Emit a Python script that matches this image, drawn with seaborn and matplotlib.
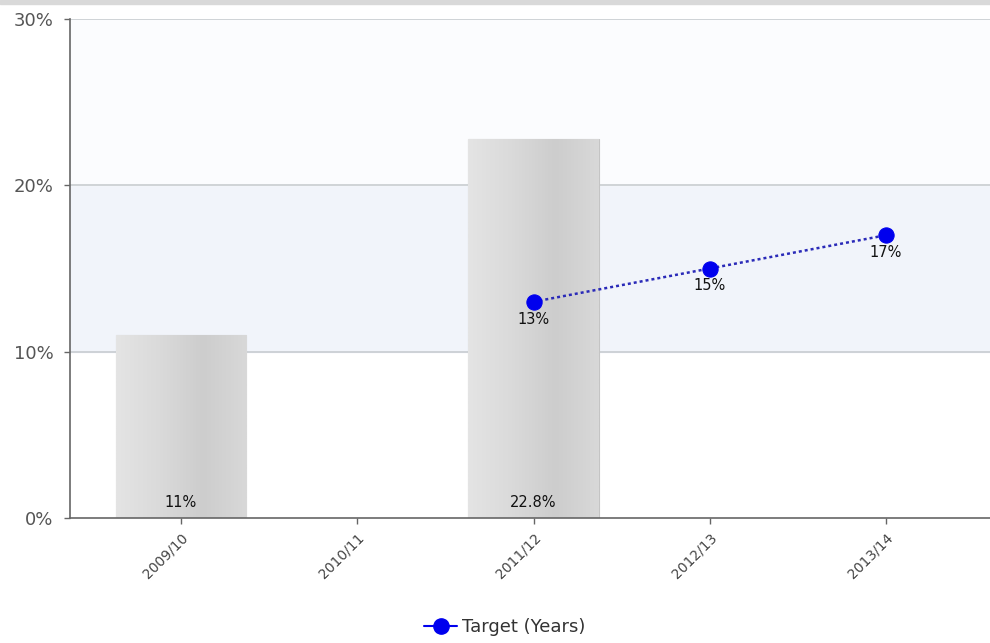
import numpy as np
import pandas as pd
import seaborn as sns
import matplotlib.pyplot as plt
from matplotlib.lines import Line2D

categories = ['2009/10', '2010/11', '2011/12', '2012/13', '2013/14']
actual = [11.0, np.nan, 22.8, np.nan, np.nan]
target = [np.nan, np.nan, 13.0, 15.0, 17.0]
y_ticks = [0, 10, 20, 30]
y_tick_labels = ['0%', '10%', '20%', '30%']

sns.set_style('white')
plt.rcParams['font.family'] = ['DejaVu Sans']

fig = plt.figure(figsize=(9.9, 6.43), dpi=100)
ax = fig.add_axes([70 / 990, 1 - 518 / 643, (997 - 70) / 990, (518 - 19) / 643])

# background bands
ax.axhspan(10, 20, color='#f1f4fa', zorder=0)
ax.axhspan(20, 30, color='#fbfcfe', zorder=0)
for v in [10, 20, 30]:
    ax.axhline(v, color='#c8ccd0', lw=1.2, zorder=1)

df = pd.DataFrame({'period': categories, 'actual': actual, 'target': target})
sns.barplot(data=df, x='period', y='actual', order=categories, color='#d6d6d6',
            width=0.74, edgecolor='#c4c4c4', linewidth=0.8, saturation=1, ax=ax, zorder=2)

# soft horizontal gradient on each bar
grad = np.linspace(0, 1, 100).reshape(1, -1)
cmap = sns.blend_palette(['#e4e4e4', '#dadada', '#cdcdcd', '#d8d8d8'], as_cmap=True)
for p in ax.patches:
    h = p.get_height()
    if np.isnan(h) or h == 0:
        continue
    x0, w = p.get_x(), p.get_width()
    im = ax.imshow(grad, extent=[x0, x0 + w, 0, h], aspect='auto', cmap=cmap, zorder=2.5)
    im.set_clip_path(p)

# bar labels at the bottom of the bars
for i, v in enumerate(actual):
    if not np.isnan(v):
        ax.text(i, 0.5, f'{v:g}%', ha='center', va='bottom', fontsize=10.5, color='#111111', zorder=5)

pos = [categories.index(c) for c in categories]
tdf = pd.DataFrame({'x': pos, 'target': target}).dropna()
sns.lineplot(data=tdf, x='x', y='target', color='#2a2ab8', marker='o', markersize=11,
             linestyle=(0, (1.2, 1.2)), lw=1.8, markerfacecolor='#0000ee',
             markeredgecolor='#0000ee', ax=ax, zorder=4)
for x, v in zip(tdf['x'], tdf['target']):
    ax.text(x, v - 0.6, f'{v:g}%', ha='center', va='top', fontsize=10.5, color='#111111', zorder=5)

ax.set_xlim(-0.63, 4.63)
ax.set_ylim(0, 30)
ax.set_yticks(y_ticks)
ax.set_yticklabels(y_tick_labels, fontsize=13, color='#555555')
ax.set_xticks(pos)
ax.set_xticklabels(categories, rotation=45, ha='right', rotation_mode='anchor',
                   fontsize=10, color='#444444')
ax.set_xlabel('')
ax.set_ylabel('')
ax.tick_params(axis='both', length=4, color='#666666', width=1, left=True, bottom=True)
ax.tick_params(axis='y', pad=8)
ax.tick_params(axis='x', pad=5)
for s in ['top', 'right']:
    ax.spines[s].set_visible(False)
for s in ['left', 'bottom']:
    ax.spines[s].set_color('#666666')
    ax.spines[s].set_linewidth(1.2)

handle = Line2D([], [], color='#0000ee', marker='o', markersize=11, lw=1.5)
fig.legend([handle], ['Target (Years)'], loc='center', bbox_to_anchor=(505 / 990, 1 - 627 / 643),
           frameon=False, fontsize=13, handlelength=1.8, handletextpad=0.3, labelcolor='#333333')

fig.patches.append(plt.Rectangle((0, 1 - 4 / 643), 1, 4 / 643, transform=fig.transFigure,
                                 color='#d9d9d9', zorder=0))

fig.savefig('out.png', dpi=100)
plt.close(fig)
